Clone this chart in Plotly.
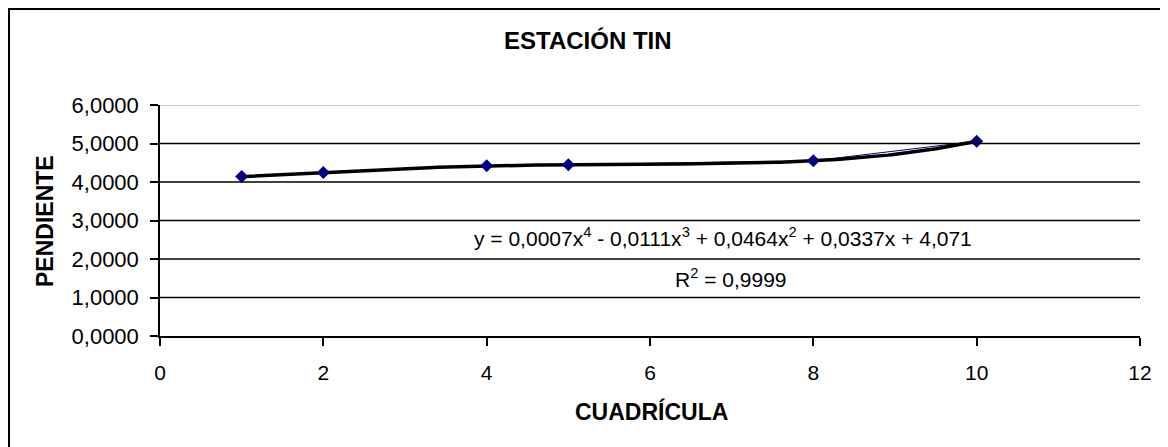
import numpy as np
import plotly.graph_objects as go

# ---- data ----
cuadricula = [1, 2, 4, 5, 8, 10]
pendiente = [4.14, 4.25, 4.42, 4.45, 4.55, 5.06]
y_ticks = [0, 1, 2, 3, 4, 5, 6]
x_ticks = [0, 2, 4, 6, 8, 10, 12]
title_text = "ESTACIÓN TIN"
x_title = "CUADRÍCULA"
y_title = "PENDIENTE"
eq_text = "y = 0,0007x<sup>4</sup> - 0,0111x<sup>3</sup> + 0,0464x<sup>2</sup> + 0,0337x + 4,071"
r2_text = "R<sup>2</sup> = 0,9999"

# polynomial trendline (order 4) fitted to the series
coef = np.polyfit(cuadricula, pendiente, 4)
xt = np.linspace(min(cuadricula), max(cuadricula), 200)
yt = np.polyval(coef, xt)

OFF = 8  # page body margin
W, H = 1160, 439
ML, MT = 152, 97
PW, PH = 980, 231
MR = W - ML - PW
MB = H - MT - PH

def px(xpix):
    return (xpix - OFF - ML) / PW

def py(ypix):
    return (MT + PH - (ypix - OFF)) / PH

FONT = "Arial, Liberation Sans, sans-serif"

fig = go.Figure()
fig.add_trace(go.Scatter(x=cuadricula, y=pendiente, mode="lines",
                         line=dict(color="#000080", width=1), showlegend=False))
fig.add_trace(go.Scatter(x=xt, y=yt, mode="lines",
                         line=dict(color="black", width=3.5), showlegend=False))
fig.add_trace(go.Scatter(x=cuadricula, y=pendiente, mode="markers",
                         marker=dict(symbol="diamond", size=10, color="#000080"),
                         showlegend=False))

shapes = []
for v in y_ticks[1:-1]:
    shapes.append(dict(type="line", xref="paper", yref="y", x0=0, x1=1, y0=v, y1=v,
                       line=dict(color="black", width=1.3)))
shapes.append(dict(type="line", xref="paper", yref="y", x0=0, x1=1,
                   y0=y_ticks[-1], y1=y_ticks[-1], line=dict(color="#c8c8c8", width=2)))
shapes.append(dict(type="rect", xref="paper", yref="paper",
                   x0=px(9), x1=px(1165), y0=py(460), y1=py(9),
                   line=dict(color="black", width=2)))

def ann(text, x, y, size, angle=0):
    return dict(text=text, xref="paper", yref="paper", x=px(x), y=py(y),
                xanchor="center", yanchor="middle", textangle=angle,
                showarrow=False, font=dict(size=size, color="black", family=FONT))

annotations = [
    ann("<b>" + title_text + "</b>", 588, 40, 24),
    ann("<b>" + x_title + "</b>", 651, 411, 23),
    ann("<b>" + y_title + "</b>", 45, 221, 23, -90),
    ann(eq_text, 723, 237, 21),
    ann(r2_text, 731, 278, 21),
]

fig.update_layout(
    width=W, height=H,
    margin=dict(l=ML, r=MR, t=MT, b=MB),
    paper_bgcolor="white", plot_bgcolor="white",
    separators=",.",
    font=dict(family=FONT, size=21, color="black"),
    shapes=shapes, annotations=annotations,
    xaxis=dict(range=[x_ticks[0], x_ticks[-1]], tickvals=x_ticks, showgrid=False,
               showline=True, linecolor="black", linewidth=1.5, zeroline=False,
               ticks="outside", ticklen=8, tickcolor="black", tickwidth=1.5,
               ticklabelstandoff=9, tickfont=dict(size=21)),
    yaxis=dict(range=[y_ticks[0], y_ticks[-1]], tickvals=y_ticks, tickformat=".4f",
               showgrid=False, showline=True, linecolor="black", linewidth=1.5,
               zeroline=False, ticks="outside", ticklen=8, tickcolor="black", tickwidth=1.5,
               ticklabelstandoff=7, tickfont=dict(size=22)),
)

fig.write_html("out.html")
